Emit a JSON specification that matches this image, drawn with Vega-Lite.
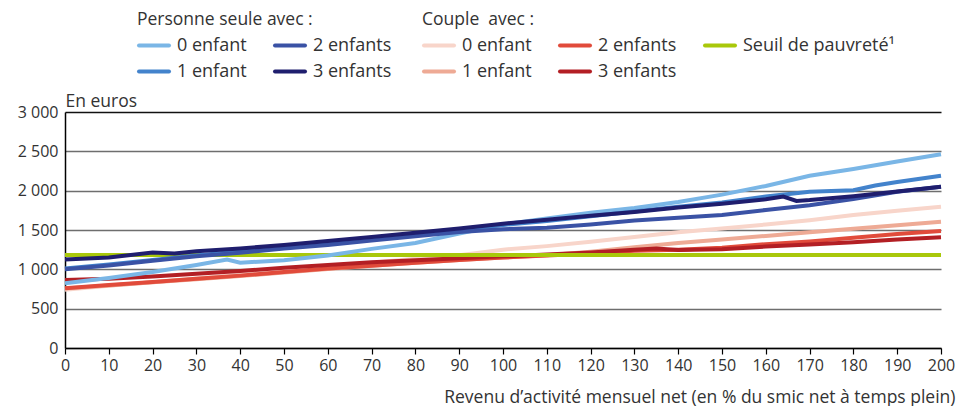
{
  "$schema": "https://vega.github.io/schema/vega-lite/v6.json",
  "width": 876,
  "height": 236,
  "autosize": {"type": "none"},
  "padding": {"left": 65, "top": 112, "right": 17, "bottom": 58},
  "background": "white",
  "config": {
    "view": {"stroke": null},
    "font": "Open Sans",
    "axis": {"labelColor": "#333333", "titleColor": "#333333", "labelFontSize": 16, "titleFontSize": 17.5, "titleFontWeight": "normal"},
    "legend": {"labelColor": "#333333", "titleColor": "#333333", "labelFontSize": 18, "titleFontSize": 17.5, "titleFontWeight": "normal"}
  },
  "datasets": {
    "d": [
      {"g":"C","s":"0 enfant","x":0,"y":740},{"g":"C","s":"0 enfant","x":10,"y":790},{"g":"C","s":"0 enfant","x":20,"y":835},{"g":"C","s":"0 enfant","x":30,"y":885},{"g":"C","s":"0 enfant","x":40,"y":935},{"g":"C","s":"0 enfant","x":50,"y":985},{"g":"C","s":"0 enfant","x":60,"y":1035},{"g":"C","s":"0 enfant","x":70,"y":1085},{"g":"C","s":"0 enfant","x":80,"y":1135},{"g":"C","s":"0 enfant","x":90,"y":1180},{"g":"C","s":"0 enfant","x":100,"y":1250},{"g":"C","s":"0 enfant","x":110,"y":1295},{"g":"C","s":"0 enfant","x":120,"y":1350},{"g":"C","s":"0 enfant","x":130,"y":1410},{"g":"C","s":"0 enfant","x":140,"y":1470},{"g":"C","s":"0 enfant","x":150,"y":1520},{"g":"C","s":"0 enfant","x":160,"y":1570},{"g":"C","s":"0 enfant","x":170,"y":1625},{"g":"C","s":"0 enfant","x":180,"y":1690},{"g":"C","s":"0 enfant","x":190,"y":1745},{"g":"C","s":"0 enfant","x":200,"y":1796},
      {"g":"C","s":"1 enfant","x":0,"y":755},{"g":"C","s":"1 enfant","x":10,"y":795},{"g":"C","s":"1 enfant","x":20,"y":835},{"g":"C","s":"1 enfant","x":30,"y":875},{"g":"C","s":"1 enfant","x":40,"y":915},{"g":"C","s":"1 enfant","x":50,"y":960},{"g":"C","s":"1 enfant","x":60,"y":1005},{"g":"C","s":"1 enfant","x":70,"y":1045},{"g":"C","s":"1 enfant","x":80,"y":1085},{"g":"C","s":"1 enfant","x":90,"y":1120},{"g":"C","s":"1 enfant","x":100,"y":1150},{"g":"C","s":"1 enfant","x":110,"y":1180},{"g":"C","s":"1 enfant","x":120,"y":1225},{"g":"C","s":"1 enfant","x":130,"y":1280},{"g":"C","s":"1 enfant","x":140,"y":1335},{"g":"C","s":"1 enfant","x":150,"y":1380},{"g":"C","s":"1 enfant","x":160,"y":1425},{"g":"C","s":"1 enfant","x":170,"y":1470},{"g":"C","s":"1 enfant","x":180,"y":1515},{"g":"C","s":"1 enfant","x":190,"y":1560},{"g":"C","s":"1 enfant","x":200,"y":1605},
      {"g":"C","s":"2 enfants","x":0,"y":759},{"g":"C","s":"2 enfants","x":10,"y":800},{"g":"C","s":"2 enfants","x":20,"y":840},{"g":"C","s":"2 enfants","x":30,"y":880},{"g":"C","s":"2 enfants","x":40,"y":920},{"g":"C","s":"2 enfants","x":50,"y":965},{"g":"C","s":"2 enfants","x":60,"y":1010},{"g":"C","s":"2 enfants","x":70,"y":1045},{"g":"C","s":"2 enfants","x":80,"y":1085},{"g":"C","s":"2 enfants","x":90,"y":1120},{"g":"C","s":"2 enfants","x":100,"y":1150},{"g":"C","s":"2 enfants","x":110,"y":1175},{"g":"C","s":"2 enfants","x":120,"y":1200},{"g":"C","s":"2 enfants","x":130,"y":1235},{"g":"C","s":"2 enfants","x":140,"y":1250},{"g":"C","s":"2 enfants","x":150,"y":1275},{"g":"C","s":"2 enfants","x":160,"y":1320},{"g":"C","s":"2 enfants","x":170,"y":1355},{"g":"C","s":"2 enfants","x":180,"y":1400},{"g":"C","s":"2 enfants","x":190,"y":1450},{"g":"C","s":"2 enfants","x":200,"y":1487},
      {"g":"C","s":"3 enfants","x":0,"y":864},{"g":"C","s":"3 enfants","x":10,"y":880},{"g":"C","s":"3 enfants","x":20,"y":910},{"g":"C","s":"3 enfants","x":30,"y":945},{"g":"C","s":"3 enfants","x":40,"y":980},{"g":"C","s":"3 enfants","x":50,"y":1020},{"g":"C","s":"3 enfants","x":60,"y":1055},{"g":"C","s":"3 enfants","x":70,"y":1090},{"g":"C","s":"3 enfants","x":80,"y":1115},{"g":"C","s":"3 enfants","x":90,"y":1140},{"g":"C","s":"3 enfants","x":100,"y":1165},{"g":"C","s":"3 enfants","x":110,"y":1190},{"g":"C","s":"3 enfants","x":120,"y":1215},{"g":"C","s":"3 enfants","x":130,"y":1250},{"g":"C","s":"3 enfants","x":135,"y":1265},{"g":"C","s":"3 enfants","x":140,"y":1245},{"g":"C","s":"3 enfants","x":150,"y":1255},{"g":"C","s":"3 enfants","x":160,"y":1290},{"g":"C","s":"3 enfants","x":170,"y":1315},{"g":"C","s":"3 enfants","x":180,"y":1345},{"g":"C","s":"3 enfants","x":190,"y":1380},{"g":"C","s":"3 enfants","x":200,"y":1407},
      {"g":"C","s":"Seuil de pauvreté¹","x":0,"y":1182},{"g":"C","s":"Seuil de pauvreté¹","x":200,"y":1182},
      {"g":"P","s":"0 enfant","x":0,"y":822},{"g":"P","s":"0 enfant","x":10,"y":890},{"g":"P","s":"0 enfant","x":20,"y":965},{"g":"P","s":"0 enfant","x":30,"y":1055},{"g":"P","s":"0 enfant","x":37,"y":1125},{"g":"P","s":"0 enfant","x":40,"y":1085},{"g":"P","s":"0 enfant","x":50,"y":1115},{"g":"P","s":"0 enfant","x":60,"y":1175},{"g":"P","s":"0 enfant","x":70,"y":1260},{"g":"P","s":"0 enfant","x":80,"y":1335},{"g":"P","s":"0 enfant","x":90,"y":1455},{"g":"P","s":"0 enfant","x":100,"y":1570},{"g":"P","s":"0 enfant","x":110,"y":1645},{"g":"P","s":"0 enfant","x":120,"y":1720},{"g":"P","s":"0 enfant","x":130,"y":1780},{"g":"P","s":"0 enfant","x":140,"y":1855},{"g":"P","s":"0 enfant","x":150,"y":1950},{"g":"P","s":"0 enfant","x":160,"y":2060},{"g":"P","s":"0 enfant","x":170,"y":2190},{"g":"P","s":"0 enfant","x":180,"y":2275},{"g":"P","s":"0 enfant","x":190,"y":2370},{"g":"P","s":"0 enfant","x":200,"y":2462},
      {"g":"P","s":"1 enfant","x":0,"y":1010},{"g":"P","s":"1 enfant","x":10,"y":1060},{"g":"P","s":"1 enfant","x":20,"y":1120},{"g":"P","s":"1 enfant","x":30,"y":1175},{"g":"P","s":"1 enfant","x":40,"y":1230},{"g":"P","s":"1 enfant","x":50,"y":1285},{"g":"P","s":"1 enfant","x":60,"y":1340},{"g":"P","s":"1 enfant","x":70,"y":1400},{"g":"P","s":"1 enfant","x":80,"y":1455},{"g":"P","s":"1 enfant","x":90,"y":1510},{"g":"P","s":"1 enfant","x":100,"y":1565},{"g":"P","s":"1 enfant","x":110,"y":1615},{"g":"P","s":"1 enfant","x":120,"y":1675},{"g":"P","s":"1 enfant","x":130,"y":1735},{"g":"P","s":"1 enfant","x":140,"y":1795},{"g":"P","s":"1 enfant","x":150,"y":1850},{"g":"P","s":"1 enfant","x":160,"y":1925},{"g":"P","s":"1 enfant","x":170,"y":1985},{"g":"P","s":"1 enfant","x":180,"y":2005},{"g":"P","s":"1 enfant","x":185,"y":2065},{"g":"P","s":"1 enfant","x":190,"y":2110},{"g":"P","s":"1 enfant","x":200,"y":2190},
      {"g":"P","s":"2 enfants","x":0,"y":1000},{"g":"P","s":"2 enfants","x":10,"y":1050},{"g":"P","s":"2 enfants","x":20,"y":1110},{"g":"P","s":"2 enfants","x":30,"y":1165},{"g":"P","s":"2 enfants","x":40,"y":1210},{"g":"P","s":"2 enfants","x":50,"y":1265},{"g":"P","s":"2 enfants","x":60,"y":1310},{"g":"P","s":"2 enfants","x":70,"y":1365},{"g":"P","s":"2 enfants","x":80,"y":1420},{"g":"P","s":"2 enfants","x":90,"y":1475},{"g":"P","s":"2 enfants","x":100,"y":1510},{"g":"P","s":"2 enfants","x":110,"y":1530},{"g":"P","s":"2 enfants","x":120,"y":1570},{"g":"P","s":"2 enfants","x":130,"y":1620},{"g":"P","s":"2 enfants","x":140,"y":1655},{"g":"P","s":"2 enfants","x":150,"y":1690},{"g":"P","s":"2 enfants","x":160,"y":1755},{"g":"P","s":"2 enfants","x":170,"y":1815},{"g":"P","s":"2 enfants","x":180,"y":1895},{"g":"P","s":"2 enfants","x":190,"y":1985},{"g":"P","s":"2 enfants","x":200,"y":2050},
      {"g":"P","s":"3 enfants","x":0,"y":1125},{"g":"P","s":"3 enfants","x":10,"y":1150},{"g":"P","s":"3 enfants","x":20,"y":1215},{"g":"P","s":"3 enfants","x":25,"y":1200},{"g":"P","s":"3 enfants","x":30,"y":1230},{"g":"P","s":"3 enfants","x":40,"y":1265},{"g":"P","s":"3 enfants","x":50,"y":1310},{"g":"P","s":"3 enfants","x":60,"y":1360},{"g":"P","s":"3 enfants","x":70,"y":1410},{"g":"P","s":"3 enfants","x":80,"y":1465},{"g":"P","s":"3 enfants","x":90,"y":1520},{"g":"P","s":"3 enfants","x":100,"y":1580},{"g":"P","s":"3 enfants","x":110,"y":1630},{"g":"P","s":"3 enfants","x":120,"y":1680},{"g":"P","s":"3 enfants","x":130,"y":1730},{"g":"P","s":"3 enfants","x":140,"y":1785},{"g":"P","s":"3 enfants","x":150,"y":1835},{"g":"P","s":"3 enfants","x":160,"y":1890},{"g":"P","s":"3 enfants","x":164,"y":1925},{"g":"P","s":"3 enfants","x":167,"y":1870},{"g":"P","s":"3 enfants","x":170,"y":1880},{"g":"P","s":"3 enfants","x":180,"y":1930},{"g":"P","s":"3 enfants","x":190,"y":1990},{"g":"P","s":"3 enfants","x":200,"y":2050}
    ]
  },
  "data": {"name": "d"},
  "encoding": {
    "x": {
      "field": "x", "type": "quantitative",
      "scale": {"domain": [0, 200], "nice": false},
      "axis": {
        "values": [0,10,20,30,40,50,60,70,80,90,100,110,120,130,140,150,160,170,180,190,200],
        "title": "Revenu d’activité mensuel net (en % du smic net à temps plein)",
        "grid": false, "domainColor": "#000000", "domainWidth": 1.5, "tickColor": "#000000", "tickSize": 6, "tickWidth": 1.2,
        "labelPadding": 3, "labelFlush": false,
        "titleAnchor": "end", "titleAlign": "right", "titleBaseline": "alphabetic", "titleX": 890, "titleY": 54
      }
    },
    "y": {
      "field": "y", "type": "quantitative",
      "scale": {"domain": [0, 3000], "nice": false},
      "axis": {
        "values": [0,500,1000,1500,2000,2500,3000],
        "labelExpr": "replace(format(datum.value, ','), ',', ' ')",
        "title": "En euros", "titleAngle": 0, "titleAlign": "left", "titleBaseline": "alphabetic", "titleX": 0, "titleY": -6,
        "tickSize": 0, "labelPadding": 7, "grid": true,
        "gridColor": {"condition": {"test": "datum.value == 3000", "value": "#111111"}, "value": "#6e6e6e"},
        "gridWidth": 1.5,
        "domainColor": "#000000", "domainWidth": 1.5
      }
    }
  },
  "layer": [
    {
      "transform": [{"filter": "datum.g == 'C'"}],
      "mark": {"type": "line", "strokeWidth": 4},
      "encoding": {
        "color": {
          "field": "s", "type": "nominal",
          "scale": {"domain": ["0 enfant","1 enfant","2 enfants","3 enfants","Seuil de pauvreté¹"], "range": ["#f8d5ca","#eeaa95","#e14b3b","#b31f24","#a9c80a"]},
          "legend": {
            "title": "Couple\u00a0 avec :", "orient": "none", "legendX": 357, "legendY": -101, "columns": 3,
            "symbolType": "stroke", "symbolSize": 900, "symbolStrokeWidth": 4, "columnPadding": 20, "rowPadding": -3,
            "titlePadding": 0, "labelOffset": 6, "labelLimit": 300,
            "encode": {"symbols": {"update": {"strokeCap": {"value": "round"}}}}
          }
        }
      }
    },
    {
      "transform": [{"filter": "datum.g == 'P'"}],
      "mark": {"type": "line", "strokeWidth": 4},
      "encoding": {
        "color": {
          "field": "s", "type": "nominal",
          "scale": {"domain": ["0 enfant","1 enfant","2 enfants","3 enfants"], "range": ["#7ab6e6","#4383cc","#3a52a5","#1f1e6e"]},
          "legend": {
            "title": "Personne seule avec :", "orient": "none", "legendX": 72, "legendY": -101, "columns": 2,
            "symbolType": "stroke", "symbolSize": 900, "symbolStrokeWidth": 4, "columnPadding": 20, "rowPadding": -3,
            "titlePadding": 0, "labelOffset": 6, "labelLimit": 300,
            "encode": {"symbols": {"update": {"strokeCap": {"value": "round"}}}}
          }
        }
      }
    }
  ],
  "resolve": {"scale": {"color": "independent"}}
}
